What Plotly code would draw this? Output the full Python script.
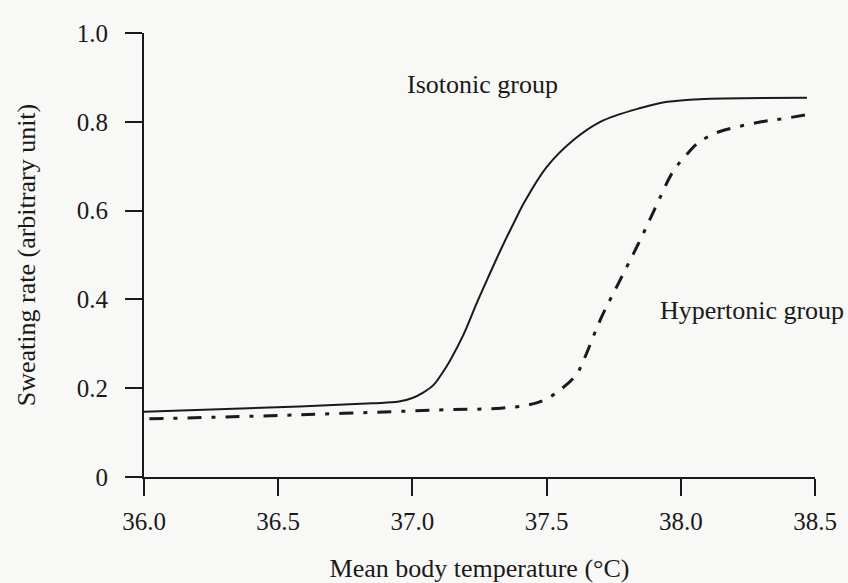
import plotly.graph_objects as go

# Isotonic group (solid line)
iso_temp = [36.00, 36.58, 36.85, 36.95, 37.00, 37.04, 37.08, 37.11, 37.14, 37.19,
            37.24, 37.29, 37.33, 37.38, 37.42, 37.50, 37.60, 37.70, 37.85, 37.95,
            38.07, 38.47]
iso_rate = [0.147, 0.159, 0.166, 0.170, 0.178, 0.190, 0.208, 0.233, 0.262, 0.320,
            0.392, 0.460, 0.513, 0.575, 0.622, 0.698, 0.759, 0.800, 0.831, 0.845,
            0.851, 0.854]

# Hypertonic group (dash-dot line)
hyp_temp = [36.02, 36.58, 37.10, 37.33, 37.43, 37.49, 37.55, 37.61, 37.64, 37.70,
            37.77, 37.84, 37.905, 37.97, 38.02, 38.07, 38.14, 38.22, 38.30, 38.37,
            38.49]
hyp_rate = [0.131, 0.140, 0.151, 0.155, 0.162, 0.173, 0.196, 0.230, 0.266, 0.354,
            0.439, 0.523, 0.606, 0.687, 0.725, 0.755, 0.777, 0.790, 0.800, 0.806,
            0.818]

x_ticks = [36.0, 36.5, 37.0, 37.5, 38.0, 38.5]
x_ticktext = ["36.0", "36.5", "37.0", "37.5", "38.0", "38.5"]
y_ticks = [0, 0.2, 0.4, 0.6, 0.8, 1.0]
y_ticktext = ["0", "0.2", "0.4", "0.6", "0.8", "1.0"]

FONT = "Liberation Serif, Times New Roman, serif"
INK = "#1a1a1a"
BG = "#f8f8f6"

fig = go.Figure()
fig.add_trace(go.Scatter(x=iso_temp, y=iso_rate, mode="lines", name="Isotonic group",
                         line=dict(color=INK, width=2, shape="spline", smoothing=1.0),
                         cliponaxis=False))
fig.add_trace(go.Scatter(x=hyp_temp, y=hyp_rate, mode="lines", name="Hypertonic group",
                         line=dict(color=INK, width=3, shape="spline", smoothing=1.0,
                                   dash="14px,10px,4px,10px"),
                         cliponaxis=False))

fig.add_annotation(x=36.972, y=0.883, xref="x", yref="y", text="Isotonic group",
                   showarrow=False, xanchor="left", yanchor="middle",
                   font=dict(family=FONT, size=26, color=INK))
fig.add_annotation(x=37.915, y=0.374, xref="x", yref="y", text="Hypertonic group",
                   showarrow=False, xanchor="left", yanchor="middle",
                   font=dict(family=FONT, size=26, color=INK))

fig.update_layout(
    width=848, height=583,
    margin=dict(l=144, r=33, t=33, b=106, autoexpand=False),
    paper_bgcolor=BG, plot_bgcolor=BG,
    showlegend=False,
    font=dict(family=FONT, size=25, color=INK),
    xaxis=dict(range=[36, 38.5], tickvals=x_ticks, ticktext=x_ticktext,
               automargin=False,
               showline=True, linecolor=INK, linewidth=2,
               ticks="outside", ticklen=17, tickwidth=2, tickcolor=INK,
               showgrid=False, zeroline=False, ticklabelstandoff=4,
               tickfont=dict(family=FONT, size=25, color=INK),
               title=dict(text="Mean body temperature (°C)", standoff=27,
                          font=dict(family=FONT, size=26, color=INK))),
    yaxis=dict(range=[0, 1], tickvals=y_ticks, ticktext=y_ticktext,
               automargin=False,
               showline=True, linecolor=INK, linewidth=2,
               ticks="outside", ticklen=17, tickwidth=2, tickcolor=INK,
               showgrid=False, zeroline=False, ticklabelstandoff=12,
               tickfont=dict(family=FONT, size=25, color=INK),
               title=dict(text="Sweating rate (arbitrary unit)", standoff=34,
                          font=dict(family=FONT, size=26, color=INK))),
)

fig.write_html(
    "out.html",
    config={"displayModeBar": False},
    post_script="document.body.style.margin='0';document.body.style.background='#f8f8f6';",
)
